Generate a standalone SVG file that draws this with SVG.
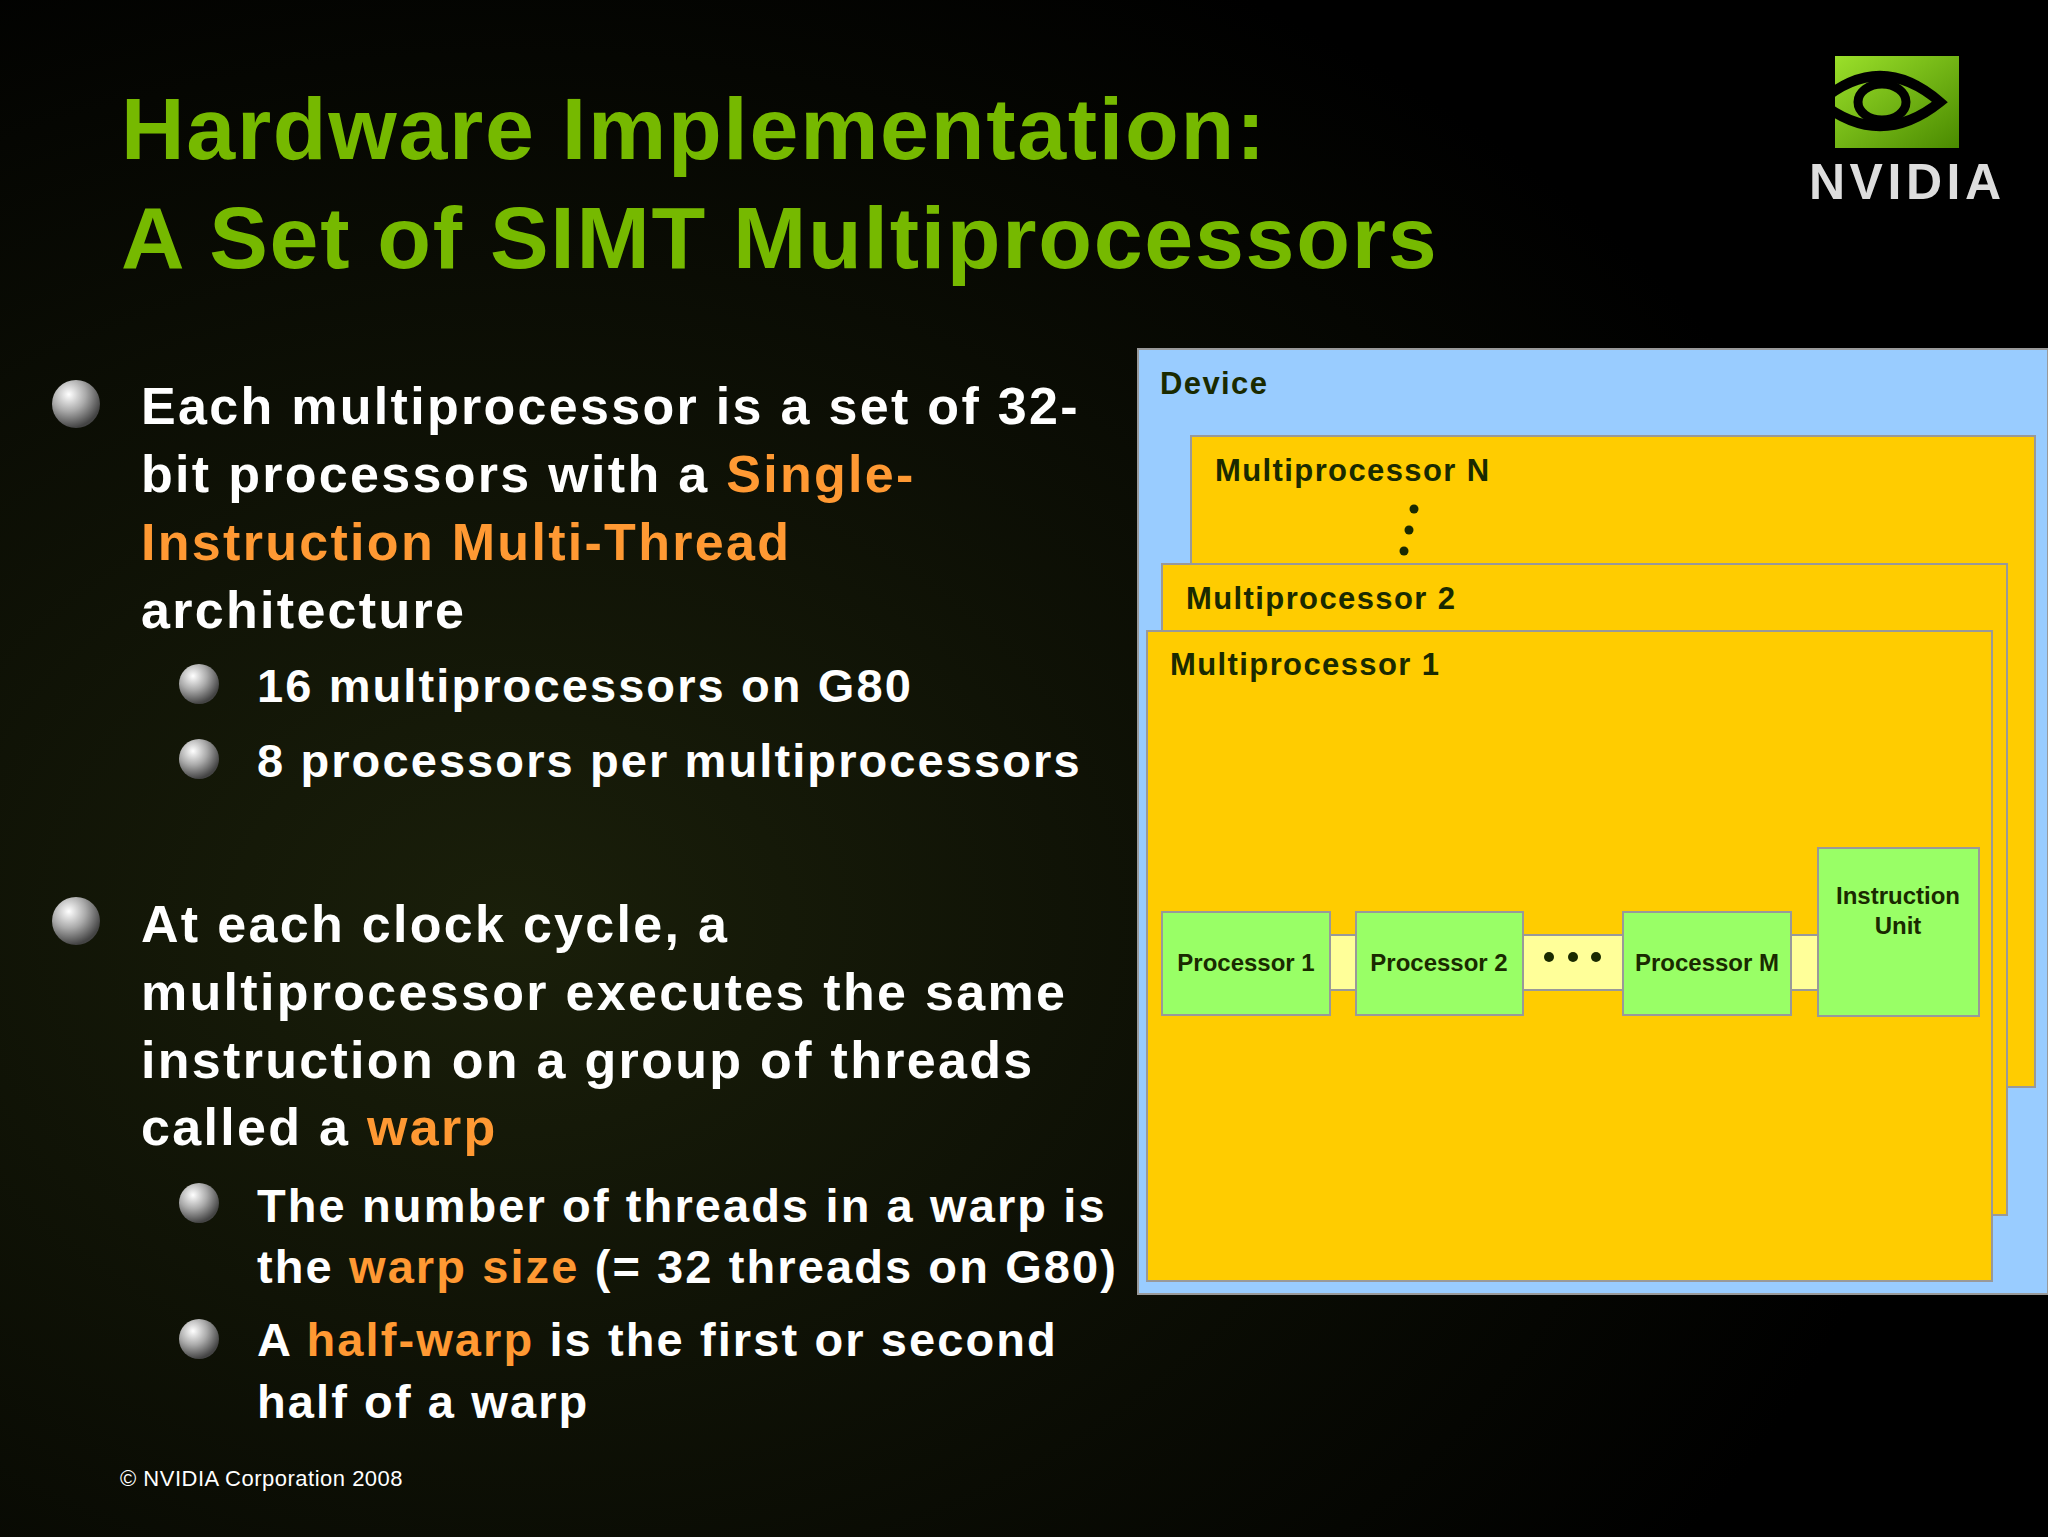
<svg xmlns="http://www.w3.org/2000/svg" width="2048" height="1537" viewBox="0 0 2048 1537">
<defs>
<radialGradient id="bg" cx="0.25" cy="0.6" r="0.7"><stop offset="0" stop-color="#1a1f0a"/><stop offset="1" stop-color="#000"/></radialGradient>
<radialGradient id="ball" cx="0.35" cy="0.3" r="0.7"><stop offset="0" stop-color="#fff"/><stop offset="0.5" stop-color="#aaa"/><stop offset="1" stop-color="#444"/></radialGradient>
<linearGradient id="lg" x1="0" y1="0" x2="1" y2="1"><stop offset="0" stop-color="#9be02a"/><stop offset="1" stop-color="#4a8a00"/></linearGradient>
<style>
.t{font-family:"Liberation Sans",Arial,sans-serif;font-weight:bold}
.title{fill:#76b900;font-size:88px;letter-spacing:1.7px}
.b{fill:#fff;font-size:52px;letter-spacing:2.3px}
.s{fill:#fff;font-size:47px;letter-spacing:2.1px}
.o{fill:#ff9933}
.box{stroke:#999;stroke-width:2}
.mp{fill:#ffcc00}
.pr{fill:#99ff66}
.lab{fill:#1a2a00;font-size:31px;letter-spacing:1.4px}
.pl{fill:#1a2a00;font-size:24px}
</style>
</defs>
<rect width="2048" height="1537" fill="url(#bg)"/>
<g id="title" class="t title">
<text x="121" y="159">Hardware Implementation:</text>
<text x="121" y="268">A Set of SIMT Multiprocessors</text>
</g>
<g id="logo">
<rect x="1835" y="56" width="124" height="92" fill="url(#lg)"/>
<path d="M1820 102 Q1880 50 1940 102 Q1880 150 1820 102 Z" fill="none" stroke="#000" stroke-width="10"/>
<ellipse cx="1882" cy="102" rx="24" ry="18" fill="none" stroke="#000" stroke-width="9"/>
<text x="1809" y="199" class="t" fill="#ddd" font-size="50" textLength="192">NVIDIA</text>
</g>
<g id="bullets">
<circle cx="76" cy="404" r="24" fill="url(#ball)"/>
<circle cx="199" cy="684" r="20" fill="url(#ball)"/>
<circle cx="199" cy="759" r="20" fill="url(#ball)"/>
<circle cx="76" cy="921" r="24" fill="url(#ball)"/>
<circle cx="199" cy="1203" r="20" fill="url(#ball)"/>
<circle cx="199" cy="1339" r="20" fill="url(#ball)"/>
<g class="t">
<text class="b" x="141" y="424">Each multiprocessor is a set of 32-</text>
<text class="b" x="141" y="492">bit processors with a <tspan class="o">Single-</tspan></text>
<text class="b o" x="141" y="560">Instruction Multi-Thread</text>
<text class="b" x="141" y="628">architecture</text>
<text class="s" x="257" y="702">16 multiprocessors on G80</text>
<text class="s" x="257" y="777">8 processors per multiprocessors</text>
<text class="b" x="141" y="942">At each clock cycle, a</text>
<text class="b" x="141" y="1010">multiprocessor executes the same</text>
<text class="b" x="141" y="1078">instruction on a group of threads</text>
<text class="b" x="141" y="1145">called a <tspan class="o">warp</tspan></text>
<text class="s" x="257" y="1222">The number of threads in a warp is</text>
<text class="s" x="257" y="1283">the <tspan class="o">warp size</tspan> (= 32 threads on G80)</text>
<text class="s" x="257" y="1356">A <tspan class="o">half-warp</tspan> is the first or second</text>
<text class="s" x="257" y="1418">half of a warp</text>
</g>
</g>
<text x="120" y="1486" font-family="Liberation Sans,Arial,sans-serif" font-size="22" fill="#fff" letter-spacing="0.5">© NVIDIA Corporation 2008</text>
<g id="device">
<rect class="box" x="1138" y="349" width="910" height="945" fill="#99ccff"/>
<text class="t lab" x="1160" y="394">Device</text>
</g>
<g id="mpN">
<rect class="box mp" x="1191" y="436" width="844" height="651"/>
<text class="t lab" x="1215" y="481">Multiprocessor N</text>
<circle cx="1414" cy="509" r="4.5" fill="#1a2a00"/><circle cx="1409" cy="530" r="4.5" fill="#1a2a00"/><circle cx="1404" cy="551" r="4.5" fill="#1a2a00"/>
</g>
<g id="mp2">
<rect class="box mp" x="1162" y="564" width="845" height="651"/>
<text class="t lab" x="1186" y="609">Multiprocessor 2</text>
</g>
<g id="mp1">
<rect class="box mp" x="1147" y="631" width="845" height="650"/>
<text class="t lab" x="1170" y="675">Multiprocessor 1</text>
</g>
<g id="connectors">
<rect class="box" x="1330" y="935" width="488" height="55" fill="#ffff99"/>
<circle cx="1549" cy="957" r="5" fill="#1a2a00"/><circle cx="1573" cy="957" r="5" fill="#1a2a00"/><circle cx="1596" cy="957" r="5" fill="#1a2a00"/>
</g>
<g id="p1"><rect class="box pr" x="1162" y="912" width="168" height="103"/><text class="t pl" x="1246" y="971" text-anchor="middle">Processor 1</text></g>
<g id="p2"><rect class="box pr" x="1356" y="912" width="167" height="103"/><text class="t pl" x="1439" y="971" text-anchor="middle">Processor 2</text></g>
<g id="pM"><rect class="box pr" x="1623" y="912" width="168" height="103"/><text class="t pl" x="1707" y="971" text-anchor="middle">Processor M</text></g>
<g id="iu"><rect class="box pr" x="1818" y="848" width="161" height="168"/><text class="t pl" x="1898" y="904" text-anchor="middle">Instruction</text><text class="t pl" x="1898" y="934" text-anchor="middle">Unit</text></g>
</svg>
